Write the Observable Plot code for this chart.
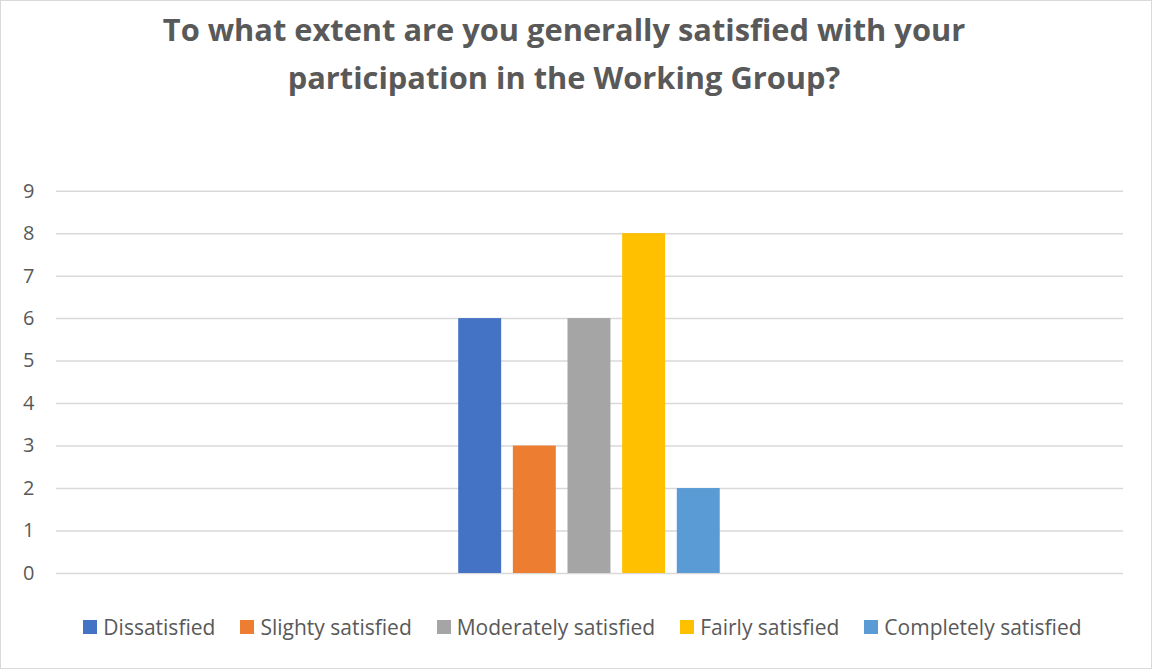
<!DOCTYPE html>
<html>
<head>
<meta charset="utf-8">
<script src="https://cdn.jsdelivr.net/npm/d3@7"></script>
<script src="https://cdn.jsdelivr.net/npm/@observablehq/plot@0.6"></script>
<style>
  body { margin: 0; background: #fff; }
  #wrap { position: relative; width: 1152px; height: 669px; box-sizing: border-box; border: 1.5px solid #d9d9d9; overflow: hidden; font-family: "Open Sans", sans-serif; }
  #title { position: absolute; left: 0; width: 1126px; top: 4px; text-align: center; font-weight: bold; font-size: 30.8px; line-height: 48px; color: #595959; }
  #chart { position: absolute; left: 0; top: 0; }
  #legend { position: absolute; left: 0; width: 1163px; top: 612px; display: flex; justify-content: center; gap: 25px; color: #595959; font-size: 21px; }
  .item { display: flex; align-items: center; gap: 6px; }
  .sw { width: 14px; height: 14px; display: inline-block; }
</style>
</head>
<body>
<div id="wrap">
  <div id="chart"></div>
  <div id="title">To what extent are you generally satisfied with your<br>participation in the Working Group?</div>
  <div id="legend"></div>
</div>
<script>
const categories = ["Dissatisfied", "Slighty satisfied", "Moderately satisfied", "Fairly satisfied", "Completely satisfied"];
const counts = [6, 3, 6, 8, 2];
const colors = ["#4472C4", "#ED7D31", "#A5A5A5", "#FFC000", "#5B9BD5"];
const yTicks = [0, 1, 2, 3, 4, 5, 6, 7, 8, 9];

const data = categories.map((c, i) => ({category: c, count: counts[i]}));

const chart = Plot.plot({
  width: 1152,
  height: 669,
  marginLeft: 55,
  marginRight: 28,
  marginTop: 190,
  marginBottom: 96,
  style: { fontFamily: '"Open Sans", sans-serif', fontSize: "20px", color: "#595959", background: "transparent" },
  x: { domain: categories, range: [458, 720], paddingInner: 0.214, paddingOuter: 0, round: false, axis: null },
  y: { domain: [0, 9], ticks: yTicks, tickSize: 0, tickPadding: 22, label: null, tickFormat: d3.format("d") },
  color: { domain: categories, range: colors },
  marks: [
    Plot.ruleY(yTicks, { stroke: "#d9d9d9", strokeWidth: 1.5 }),
    Plot.barY(data, { x: "category", y: "count", fill: "category" })
  ]
});
document.getElementById("chart").appendChild(chart);

const legend = document.getElementById("legend");
categories.forEach((c, i) => {
  const item = document.createElement("div");
  item.className = "item";
  const sw = document.createElement("span");
  sw.className = "sw";
  sw.style.background = colors[i];
  const t = document.createElement("span");
  t.textContent = c;
  item.appendChild(sw);
  item.appendChild(t);
  legend.appendChild(item);
});
</script>
</body>
</html>
